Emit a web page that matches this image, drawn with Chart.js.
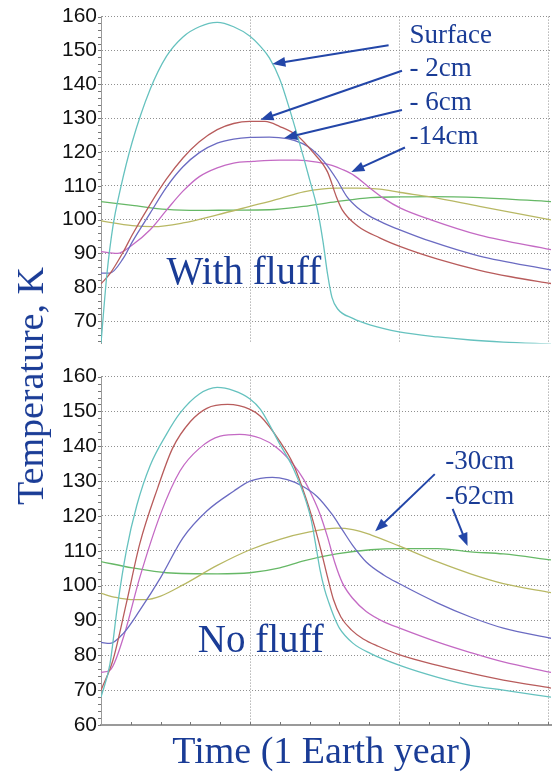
<!DOCTYPE html>
<html>
<head>
<meta charset="utf-8">
<script src="https://cdn.jsdelivr.net/npm/chart.js@4.4.0/dist/chart.umd.min.js"></script>
<style>
  body { margin: 0; background: #fff; width: 552px; height: 773px; position: relative; overflow: hidden; }
  canvas { position: absolute; left: 0; }
  #topChart { top: 0; }
  #botChart { top: 360px; }
  .title { position: absolute; font-family: "Liberation Serif", "Times New Roman", serif; font-size: 38px;
           line-height: 38px; color: #1a3c96; white-space: nowrap; }
  #yTitle { left: 30px; top: 386px; transform: translate(-50%, -50%) rotate(-90deg); }
  #xTitle { left: 322px; top: 731px; transform: translateX(-50%); }
</style>
</head>
<body>
<canvas id="topChart" width="552" height="360"></canvas>
<canvas id="botChart" width="552" height="413"></canvas>
<div class="title" id="yTitle">Temperature, K</div>
<div class="title" id="xTitle">Time (1 Earth year)</div>
<script>
// time runs 0..3 grid steps over one Earth year
const depths = ['Surface', '-2cm', '-6cm', '-14cm', '-30cm', '-62cm'];
const colors = ['#66c2bf', '#b85c5c', '#6b6bc2', '#c46ac4', '#b8b864', '#66b866'];
const fTicks = [70, 80, 90, 100, 110, 120, 130, 140, 150, 160];
const nTicks = [60, 70, 80, 90, 100, 110, 120, 130, 140, 150, 160];

// --- with fluff ---
const fSurfX = [0,0.04,0.08,0.13,0.21,0.33,0.44,0.55,0.66,0.78,0.89,1.0,1.07,1.13,1.2,1.27,1.32,1.36,1.4,1.45,1.49,1.52,1.55,1.59,1.69,1.81,2.0,2.26,2.48,2.7,3.02];
const fSurfT = [63.5,84,98,109,123,138.5,148.3,154,157,158.3,157,154.2,151.2,147.8,141.5,132,124.5,118.3,111.8,103.5,93.5,84,77,73.5,70.8,68.8,66.8,65.3,64.4,63.8,63.2];
const f2X = [0,0.06,0.15,0.21,0.33,0.44,0.55,0.66,0.78,0.89,1.0,1.1,1.2,1.32,1.42,1.52,1.58,1.62,1.72,1.87,2.01,2.26,2.54,2.75,3.02];
const f2T = [81,84,90.5,95.5,104.5,112,118.2,123,126.6,128.4,129,129,127.5,124.7,120,114.1,106.7,102.8,98.2,94.6,92,88.3,85,83.1,81.1];
const f6X = [0,0.06,0.15,0.21,0.33,0.44,0.55,0.66,0.78,0.89,1.0,1.13,1.25,1.35,1.42,1.5,1.58,1.65,1.72,1.8,1.9,2.01,2.21,2.54,3.02];
const f6T = [84.2,84.2,88.6,93.4,101.9,109.6,115.6,119.8,122.6,123.8,124.3,124.4,123.9,122.5,120.6,117,112,106.8,103.6,101.1,98.9,96.9,93.6,89.2,85.1];
const f14X = [0,0.11,0.21,0.33,0.44,0.55,0.66,0.78,0.89,1.02,1.2,1.32,1.45,1.55,1.62,1.7,1.8,1.9,2.01,2.21,2.54,3.02];
const f14T = [90.5,90,92.5,97,102.8,108.4,112.7,115.3,116.7,117.2,117.6,117.6,117,116,114.8,113,109.5,106.2,103.4,100,95.4,91.1];
const f30X = [0,0.21,0.35,0.55,0.78,1.0,1.2,1.36,1.58,1.72,1.87,2.01,2.21,2.54,3.02];
const f30T = [99.6,98.2,97.9,99,101.4,103.9,106.2,108.2,109.3,109.3,109,108,106.7,103.9,99.9];
const f62X = [0,0.21,0.44,0.66,0.89,1.13,1.36,1.58,1.81,2.01,2.21,2.54,3.02];
const f62T = [105.3,104.2,103,102.7,102.8,102.9,103.9,105.3,106.5,106.7,106.8,106.5,105.3];

// --- no fluff ---
const nSurfX = [0,0.06,0.11,0.17,0.24,0.33,0.44,0.53,0.66,0.78,0.89,1.0,1.07,1.2,1.29,1.36,1.41,1.44,1.47,1.5,1.53,1.56,1.6,1.69,1.81,2.0,2.26,2.48,2.7,3.02];
const nSurfT = [68,77.5,94,110,123,134.5,143.5,149.5,155,156.9,156,153.6,150.6,140.6,133.7,126.3,119,112,104.5,99,95,91.5,87.8,83.5,80.5,77.2,73.7,71.4,70,68];
const n2X = [0,0.08,0.17,0.26,0.38,0.48,0.6,0.71,0.85,1.0,1.07,1.2,1.29,1.38,1.43,1.48,1.52,1.56,1.61,1.68,1.76,1.86,2.0,2.26,2.48,2.7,3.02];
const n2T = [70,78.6,94.9,112,128,139.4,147.1,150.9,152,150.6,148.6,141.4,134.9,124.5,117.5,109.5,102.5,96,91,87.3,84.7,82.6,80.2,77.1,74.9,72.9,70.6];
const n6X = [0,0.06,0.15,0.26,0.4,0.55,0.71,0.89,1.0,1.15,1.25,1.35,1.45,1.55,1.62,1.69,1.78,1.9,2.0,2.26,2.48,2.7,3.02];
const n6T = [83.7,83.4,86.3,92.9,102.3,113.7,121.4,127.1,130,131.1,130.4,128.6,125.6,120.5,116,111.5,106.8,103,100.6,95,91,87.8,84.9];
const n14X = [0,0.06,0.15,0.26,0.4,0.53,0.66,0.8,0.93,1.07,1.18,1.29,1.36,1.42,1.47,1.52,1.57,1.62,1.69,1.78,1.9,2.0,2.26,2.48,2.7,3.02];
const n14T = [75.1,75.7,85.1,102.3,120.6,132.9,139.4,142.9,143.4,142.3,139.6,134.8,130.5,125.5,120.5,114,106.5,100.8,96.3,92.6,89.6,87.9,83.8,80.8,78.1,75.1];
const n30X = [0,0.1,0.2,0.3,0.4,0.55,0.78,1.0,1.2,1.4,1.58,1.69,1.81,2.0,2.26,2.48,2.7,3.02];
const n30T = [97.8,96.6,96,96,97,100.2,105.8,110.3,113.3,115.4,116.5,116.1,114.6,111.4,106.8,103.4,100.6,98];
const n62X = [0,0.21,0.44,0.78,1.0,1.2,1.36,1.58,1.81,2.0,2.26,2.48,2.7,3.02];
const n62T = [106.9,105.1,103.7,103.4,103.7,105.1,107.1,109.1,110.3,110.6,110.6,109.7,109.1,107.4];

// callouts: text anchor (time, K) and arrow tail -> head (time, K)
const fNotes = ['Surface', '- 2cm', '- 6cm', '-14cm'];
const fNoteAt = [[2.07, 152.3], [2.07, 142.3], [2.07, 132.4], [2.07, 122.4]];
const fArrows = [[1.93, 151.5, 1.15, 146], [2.02, 144, 1.07, 129.5], [2.02, 132.4, 1.23, 124.1], [2.04, 121.3, 1.68, 114.1]];
const nNotes = ['-30cm', '-62cm'];
const nNoteAt = [[2.31, 133.4], [2.31, 123.4]];
const nArrows = [[2.24, 132, 1.84, 115.6], [2.36, 122, 2.46, 111.4]];

const BLUE = '#1a3c96';

function pts(xs, ys) {
  return xs.map((x, i) => ({ x: x, y: ys[i] }));
}

function makeSets(list) {
  return list.map((s, i) => ({
    label: depths[i],
    data: pts(s[0], s[1]),
    borderColor: colors[i],
    borderWidth: 1.3,
    pointRadius: 0,
    fill: false,
    cubicInterpolationMode: 'monotone'
  }));
}

function arrow(ctx, x1, y1, x2, y2) {
  const a = Math.atan2(y2 - y1, x2 - x1);
  const L = 13, W = 5;
  ctx.beginPath();
  ctx.moveTo(x1, y1);
  ctx.lineTo(x2 - (L - 2) * Math.cos(a), y2 - (L - 2) * Math.sin(a));
  ctx.stroke();
  ctx.beginPath();
  ctx.moveTo(x2, y2);
  ctx.lineTo(x2 - L * Math.cos(a) + W * Math.sin(a), y2 - L * Math.sin(a) - W * Math.cos(a));
  ctx.lineTo(x2 - L * Math.cos(a) - W * Math.sin(a), y2 - L * Math.sin(a) + W * Math.cos(a));
  ctx.closePath();
  ctx.fill();
}

// minor ticks, panel caption and the depth callouts
const notesPlugin = {
  id: 'notes',
  afterDatasetsDraw(chart, args, o) {
    const ctx = chart.ctx;
    const x = chart.scales.x, y = chart.scales.y;
    ctx.save();
    ctx.strokeStyle = '#777';
    ctx.lineWidth = 1;
    ctx.beginPath();
    for (let v = Math.ceil(y.min / 2) * 2; v <= y.max; v += 2) {
      const py = Math.round(y.getPixelForValue(v)) + 0.5;
      ctx.moveTo(x.left - 3, py);
      ctx.lineTo(x.left, py);
    }
    if (o.xMinor) {
      for (let i = 1; i <= 15; i++) {
        const px = Math.round(x.getPixelForValue(i * 0.2)) + 0.5;
        ctx.moveTo(px, y.bottom);
        ctx.lineTo(px, y.bottom - 3);
      }
    }
    ctx.stroke();

    ctx.fillStyle = BLUE;
    ctx.textBaseline = 'alphabetic';
    ctx.textAlign = 'left';
    ctx.font = '39px "Liberation Serif"';
    ctx.fillText(o.caption, x.getPixelForValue(o.captionAt[0]), y.getPixelForValue(o.captionAt[1]));

    ctx.font = '27px "Liberation Serif"';
    o.notes.forEach((t, i) => {
      ctx.fillText(t, x.getPixelForValue(o.noteAt[i][0]), y.getPixelForValue(o.noteAt[i][1]));
    });

    ctx.strokeStyle = '#2346a8';
    ctx.fillStyle = '#2346a8';
    ctx.lineWidth = 2;
    o.arrows.forEach(a => {
      arrow(ctx, x.getPixelForValue(a[0]), y.getPixelForValue(a[1]),
                 x.getPixelForValue(a[2]), y.getPixelForValue(a[3]));
    });
    ctx.restore();
  }
};

function panel(id, sets, yMin, yTicks, xAxisH, pad, extra) {
  return new Chart(document.getElementById(id), {
    type: 'line',
    data: { datasets: makeSets(sets) },
    plugins: [notesPlugin],
    options: {
      responsive: false,
      animation: false,
      devicePixelRatio: 1,
      layout: { padding: pad },
      plugins: { legend: { display: false }, tooltip: { enabled: false }, notes: extra },
      scales: {
        x: {
          type: 'linear', min: 0, max: 3.02,
          ticks: { display: false, stepSize: 1 },
          afterBuildTicks: s => { s.ticks = [0, 1, 2, 3].map(v => ({ value: v })); },
          afterFit: s => { s.height = xAxisH; },
          grid: { color: '#909090', lineWidth: 1, drawTicks: false },
          border: { display: xAxisH > 0, color: '#9a9a9a', width: 2, dash: [1, 2] }
        },
        y: {
          min: yMin, max: 160,
          ticks: { color: '#111', padding: 4, font: { family: 'Liberation Sans', size: 21 } },
          afterBuildTicks: s => { s.ticks = yTicks.map(v => ({ value: v })); },
          afterFit: s => { s.width = 101; },
          grid: { color: '#909090', lineWidth: 1, drawTicks: false },
          border: { display: true, color: '#9a9a9a', width: 1, dash: [1, 2] }
        }
      }
    }
  });
}

panel('topChart',
  [[fSurfX, fSurfT], [f2X, f2T], [f6X, f6T], [f14X, f14T], [f30X, f30T], [f62X, f62T]],
  63.4, fTicks, 0, { top: 16, right: 1, bottom: 5, left: 0 },
  { caption: 'With fluff', captionAt: [0.44, 81.1], notes: fNotes, noteAt: fNoteAt, arrows: fArrows, xMinor: false });

panel('botChart',
  [[nSurfX, nSurfT], [n2X, n2T], [n6X, n6T], [n14X, n14T], [n30X, n30T], [n62X, n62T]],
  60, nTicks, 48, { top: 15, right: 1, bottom: 0, left: 0 },
  { caption: 'No fluff', captionAt: [0.65, 80.9], notes: nNotes, noteAt: nNoteAt, arrows: nArrows, xMinor: true });
</script>
</body>
</html>
